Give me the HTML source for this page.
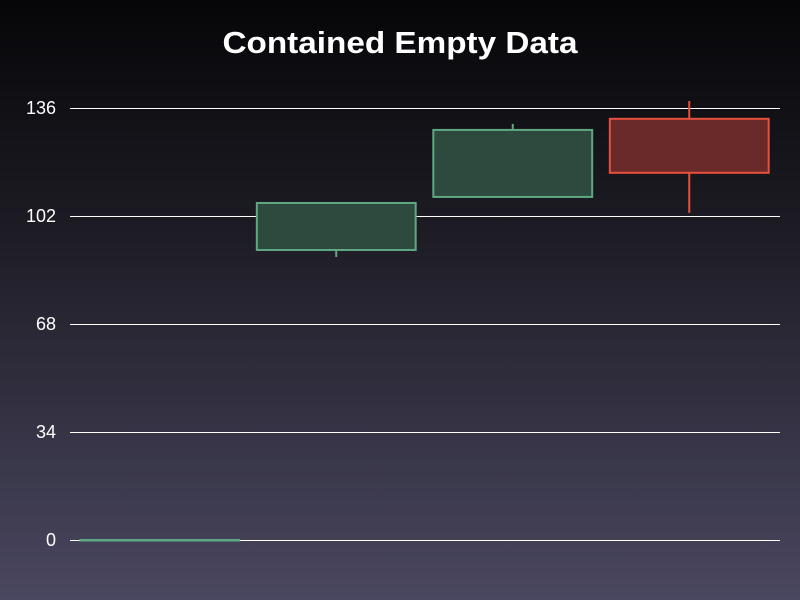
<!DOCTYPE html>
<html><head><meta charset="utf-8"><style>
html,body{margin:0;padding:0;width:800px;height:600px;overflow:hidden}
body{background:linear-gradient(to bottom,#060608 0%,#1e1d26 40%,#4a4760 100%);font-family:"Liberation Sans",sans-serif}
svg{display:block}
</style></head><body>
<svg id="chart" width="800" height="600" xmlns="http://www.w3.org/2000/svg">
<text x="400" y="53" text-anchor="middle" fill="#fff" font-size="31" font-weight="bold" font-family="Liberation Sans, sans-serif" textLength="355" lengthAdjust="spacingAndGlyphs">Contained Empty Data</text>
<g id="grid"></g><g id="marks"></g>
</svg>
<script>
const categories = ['A','B','C','D'];
const opens = [0, 91.3, 108, 132.6];
const closes = [0, 106.1, 129.1, 115.6];
const highs = [0, 106.1, 131, 138.2];
const lows = [0, 89.1, 107.7, 103];
const yTicks = [0, 34, 68, 102, 136];
const NS='http://www.w3.org/2000/svg';
const x0=71.5, x1=777.5, yMin=0, yMax=136, py0=540, py1=108;
const y = v => py0 - (v - yMin) / (yMax - yMin) * (py0 - py1);
const band = (x1 - x0) / categories.length;
const xc = i => x0 + band * (i + 0.5);
const grid=document.getElementById('grid'), marks=document.getElementById('marks');
function mk(tag,attrs,parent){const e=document.createElementNS(NS,tag);for(const k in attrs)e.setAttribute(k,attrs[k]);parent.appendChild(e);return e;}
yTicks.forEach(t=>{
  const yy=Math.round(y(t))+0.5;
  const l=mk('line',{x1:70,x2:780,y1:yy,y2:yy,stroke:'#fff','stroke-width':1,'shape-rendering':'crispEdges'},grid);
  
  
  const tx=mk('text',{x:56,y:y(t)+6,'text-anchor':'end',fill:'#fff','font-size':18},grid);
  tx.textContent=t;
  
  
});
categories.forEach((c,i)=>{
  const up=closes[i]>=opens[i];
  const stroke=up?'#5fa882':'#e8503c', fill=up?'#2e4a3f':'#6b2a2a';
  const g=mk('g',{},marks);
  
  
  const cx=xc(i), w=band*0.9;
  mk('line',{x1:cx,x2:cx,y1:y(highs[i]),y2:y(lows[i]),stroke:stroke,'stroke-width':2},g);
  const top=y(Math.max(opens[i],closes[i])), bot=y(Math.min(opens[i],closes[i]));
  mk('rect',{x:cx-w/2,y:top,width:w,height:Math.max(bot-top,0.5),fill:fill,stroke:stroke,'stroke-width':2},g);
});
</script>
</body></html>
